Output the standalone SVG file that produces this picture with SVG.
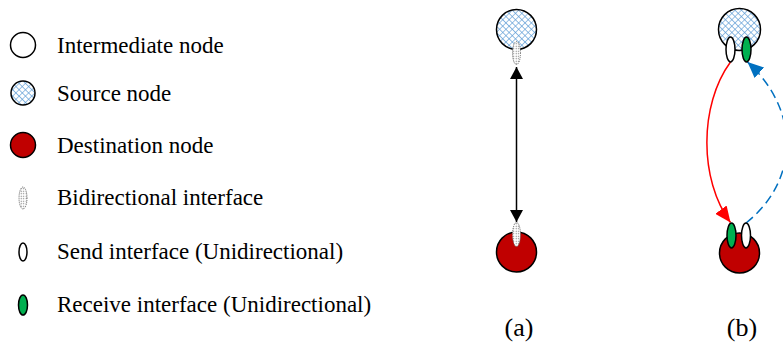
<svg xmlns="http://www.w3.org/2000/svg" width="783" height="354" viewBox="0 0 783 354">
<defs>
<pattern id="hatch" width="4.5" height="4.5" patternUnits="userSpaceOnUse" patternTransform="rotate(45)">
<rect width="4.5" height="4.5" fill="#ffffff"/>
<path d="M0 0H4.5M0 0V4.5" stroke="#5b9bd5" stroke-width="1.2"/>
</pattern>
<pattern id="dots" width="2.5" height="2.5" patternUnits="userSpaceOnUse">
<rect width="2.5" height="2.5" fill="#ffffff"/>
<circle cx="1.2" cy="1.2" r="0.6" fill="#707070"/>
</pattern>
<marker id="ahBlack" markerWidth="12" markerHeight="13" viewBox="0 0 12 13" refX="12" refY="6.5" orient="auto-start-reverse" markerUnits="userSpaceOnUse">
<path d="M0 0L12 6.5L0 13z" fill="#000"/>
</marker>
<marker id="ahRed" markerWidth="16" markerHeight="14" viewBox="0 0 16 14" refX="16" refY="7" orient="auto" markerUnits="userSpaceOnUse">
<path d="M0 0L16 7L0 14z" fill="#ff0000"/>
</marker>
<marker id="ahBlue" markerWidth="16" markerHeight="14" viewBox="0 0 16 14" refX="16" refY="7" orient="auto" markerUnits="userSpaceOnUse">
<path d="M0 0L16 7L0 14z" fill="#0070c0"/>
</marker>
</defs>
<style>
text { font-family: "Liberation Serif", "Times New Roman", serif; font-size: 23px; fill: #000; }
.cap { font-size: 26px; }
.inter { fill: #ffffff; stroke: #000; stroke-width: 1.5; }
.src { fill: url(#hatch); stroke: #000; stroke-width: 1.5; }
.dst { fill: #c00000; stroke: #000; stroke-width: 1.5; }
.bi { fill: url(#dots); stroke: #666; stroke-width: 1; stroke-dasharray: 1 1; }
.send { fill: #ffffff; stroke: #000; stroke-width: 1.5; }
.recv { fill: #00b050; stroke: #000; stroke-width: 1.5; }
</style>

<g id="legend">
<g id="legend-intermediate"><circle class="inter" cx="23" cy="45" r="12.5"/><text x="57" y="53">Intermediate node</text></g>
<g id="legend-source"><circle class="src" cx="23" cy="93" r="12"/><text x="57" y="101">Source node</text></g>
<g id="legend-destination"><circle class="dst" cx="23" cy="145" r="12.5"/><text x="57" y="153">Destination node</text></g>
<g id="legend-bidirectional"><ellipse class="bi" cx="23" cy="198" rx="4" ry="11"/><text x="57" y="205">Bidirectional interface</text></g>
<g id="legend-send"><ellipse class="send" cx="23" cy="252" rx="4" ry="9"/><text x="57" y="259">Send interface (Unidirectional)</text></g>
<g id="legend-receive"><ellipse class="recv" cx="23" cy="305" rx="4.5" ry="10"/><text x="57" y="312">Receive interface (Unidirectional)</text></g>
</g>

<g id="connectors">
<line x1="516.5" y1="67" x2="516.5" y2="222" stroke="#000" stroke-width="1.5" marker-start="url(#ahBlack)" marker-end="url(#ahBlack)"/>
<path d="M730.5 62 C 699 105, 699 180, 730.5 222.5" fill="none" stroke="#ff0000" stroke-width="1.5" marker-end="url(#ahRed)"/>
<path d="M746 223 C 800 180, 800 110, 747.5 62" fill="none" stroke="#0070c0" stroke-width="1.5" stroke-dasharray="9 5" marker-end="url(#ahBlue)"/>
</g>

<g id="a-source">
<circle class="src" cx="516.5" cy="29.5" r="20"/>
<ellipse class="bi" cx="516.5" cy="53" rx="4" ry="11.5"/>
</g>
<g id="a-destination">
<circle class="dst" cx="516.5" cy="252" r="20"/>
<ellipse class="bi" cx="516.5" cy="234.5" rx="4" ry="12"/>
</g>
<g id="b-source">
<circle class="src" cx="739.5" cy="29.5" r="21"/>
<ellipse class="send" cx="730.5" cy="49.5" rx="4.5" ry="12.5"/>
<ellipse class="recv" cx="746.5" cy="49.5" rx="4.5" ry="12.5"/>
</g>
<g id="b-destination">
<circle class="dst" cx="739.5" cy="253" r="20"/>
<ellipse class="recv" cx="731.5" cy="235.5" rx="4.5" ry="12.5"/>
<ellipse class="send" cx="746" cy="235.5" rx="4.5" ry="12.5"/>
</g>

<g id="labels">
<text class="cap" x="519" y="336" text-anchor="middle">(a)</text>
<text class="cap" x="742" y="336" text-anchor="middle">(b)</text>
</g>
</svg>
